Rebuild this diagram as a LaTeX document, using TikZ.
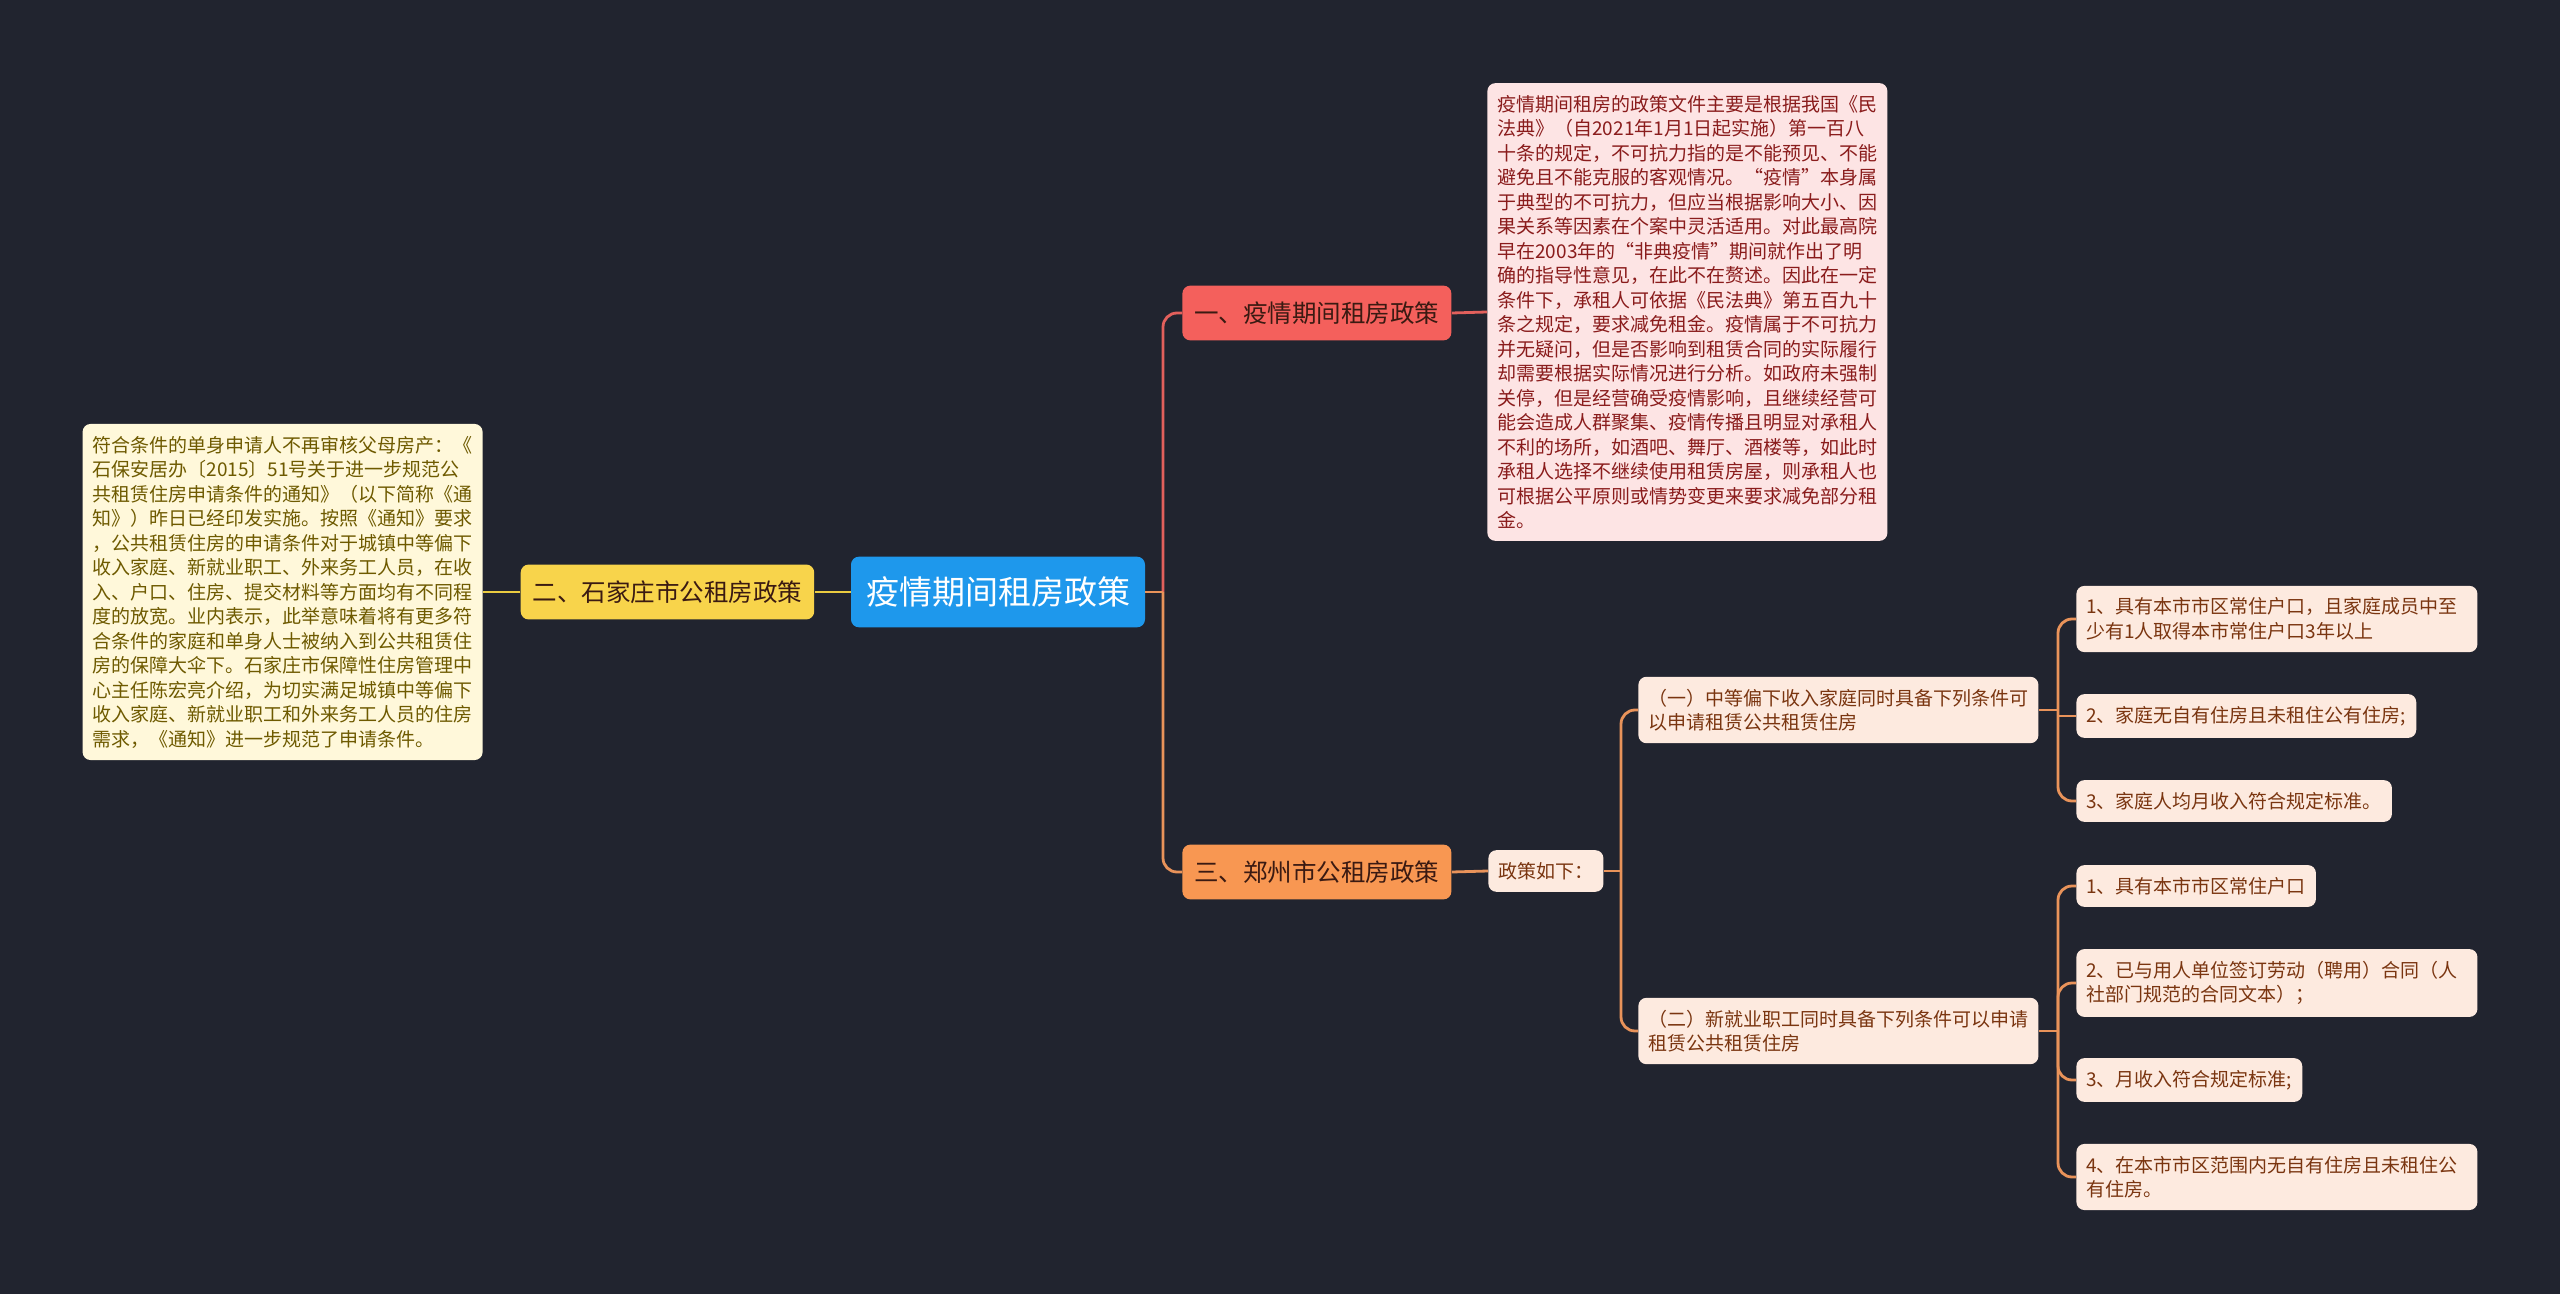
\documentclass[tikz,border=0pt]{standalone}
\usepackage{fontspec}
\setmainfont{Noto Sans CJK SC}
\usetikzlibrary{positioning}

\definecolor{bgdark}{HTML}{21242F}
\definecolor{rootblue}{HTML}{1E98EC}
\definecolor{redfill}{HTML}{F4605C}
\definecolor{redline}{HTML}{E2605C}
\definecolor{pinkfill}{HTML}{FDE4E4}
\definecolor{pinktext}{HTML}{8A1C1C}
\definecolor{yellowfill}{HTML}{F8D44B}
\definecolor{yellowline}{HTML}{EACB40}
\definecolor{creamfill}{HTML}{FFF8DA}
\definecolor{creamtext}{HTML}{6E5A00}
\definecolor{orangefill}{HTML}{F89752}
\definecolor{orangeline}{HTML}{E9935A}
\definecolor{peachfill}{HTML}{FDEADF}
\definecolor{peachtext}{HTML}{7A3510}
\definecolor{darktext}{HTML}{3A1A12}

\begin{document}
\begin{tikzpicture}[
    x=0.5pt, y=-0.5pt,
    root/.style={rectangle, rounded corners=4pt, fill=rootblue, text=white, font=\fontsize{16.5}{20}\selectfont, inner xsep=7.5pt, inner ysep=10pt},
    branch/.style={rectangle, rounded corners=4pt, text=darktext, font=\fontsize{12.25}{15}\selectfont, inner xsep=6pt, inner ysep=8pt},
    note/.style={rectangle, rounded corners=4pt, font=\fontsize{9.5}{12.25}\selectfont, align=left, inner xsep=5pt, inner ysep=6pt},
    leaf/.style={note, fill=peachfill, text=peachtext},
    wideleaf/.style={leaf, text width=190.5pt},
    link/.style={line width=1.4pt, rounded corners=7pt},
]

% Background
\fill[bgdark] (0,0) rectangle (2560,1294);
\useasboundingbox (0,0) rectangle (2560,1294);

% Center
\node[root] (root) at (998,592) {疫情期间租房政策};

% Left side: Shijiazhuang
\node[branch, fill=yellowfill, left=18pt of root] (br2) {二、石家庄市公租房政策};
\node[note, fill=creamfill, text=creamtext, anchor=east] (note2) at (483,592) {符合条件的单身申请人不再审核父母房产：《\\
石保安居办〔2015〕51号关于进一步规范公\\
共租赁住房申请条件的通知》（以下简称《通\\
知》）昨日已经印发实施。按照《通知》要求\\
，公共租赁住房的申请条件对于城镇中等偏下\\
收入家庭、新就业职工、外来务工人员，在收\\
入、户口、住房、提交材料等方面均有不同程\\
度的放宽。业内表示，此举意味着将有更多符\\
合条件的家庭和单身人士被纳入到公共租赁住\\
房的保障大伞下。石家庄市保障性住房管理中\\
心主任陈宏亮介绍，为切实满足城镇中等偏下\\
收入家庭、新就业职工和外来务工人员的住房\\
需求，《通知》进一步规范了申请条件。};

% Right side, top: epidemic period
\node[branch, fill=redfill, anchor=west] (br1) at (1182,313) {一、疫情期间租房政策};
\node[note, fill=pinkfill, text=pinktext, anchor=west] (note1) at (1487,312) {疫情期间租房的政策文件主要是根据我国《民\\
法典》（自2021年1月1日起实施）第一百八\\
十条的规定，不可抗力指的是不能预见、不能\\
避免且不能克服的客观情况。“疫情”本身属\\
于典型的不可抗力，但应当根据影响大小、因\\
果关系等因素在个案中灵活适用。对此最高院\\
早在2003年的“非典疫情”期间就作出了明\\
确的指导性意见，在此不在赘述。因此在一定\\
条件下，承租人可依据《民法典》第五百九十\\
条之规定，要求减免租金。疫情属于不可抗力\\
并无疑问，但是否影响到租赁合同的实际履行\\
却需要根据实际情况进行分析。如政府未强制\\
关停，但是经营确受疫情影响，且继续经营可\\
能会造成人群聚集、疫情传播且明显对承租人\\
不利的场所，如酒吧、舞厅、酒楼等，如此时\\
承租人选择不继续使用租赁房屋，则承租人也\\
可根据公平原则或情势变更来要求减免部分租\\
金。};

% Right side, bottom: Zhengzhou
\node[branch, fill=orangefill, anchor=west] (br3) at (1182,872) {三、郑州市公租房政策};
\node[leaf, anchor=west] (summary) at (1488,871) {政策如下：};

\node[leaf, anchor=west] (grp1) at (1638,710) {（一）中等偏下收入家庭同时具备下列条件可\\以申请租赁公共租赁住房};
\node[leaf, anchor=west] (grp2) at (1638,1031) {（二）新就业职工同时具备下列条件可以申请\\租赁公共租赁住房};

\node[wideleaf, anchor=west] (ga) at (2076,619) {1、具有本市市区常住户口，且家庭成员中至\\少有1人取得本市常住户口3年以上};
\node[leaf, anchor=west] (gb) at (2076,716) {2、家庭无自有住房且未租住公有住房;};
\node[leaf, anchor=west] (gc) at (2076,801) {3、家庭人均月收入符合规定标准。};

\node[leaf, anchor=west] (ha) at (2076,886) {1、具有本市市区常住户口};
\node[wideleaf, anchor=west] (hb) at (2076,983) {2、已与用人单位签订劳动（聘用）合同（人\\社部门规范的合同文本）；};
\node[leaf, anchor=west] (hc) at (2076,1080) {3、月收入符合规定标准;};
\node[wideleaf, anchor=west] (hd) at (2076,1177) {4、在本市市区范围内无自有住房且未租住公\\有住房。};

% Junctions
\coordinate (jroot) at (1163,592);
\coordinate (jsum) at (1621,871);
\coordinate (jg1) at (2058,710);
\coordinate (jg2) at (2058,1031);

% Links
\draw[link, yellowline] (root.west) -- (br2.east);
\draw[link, yellowline] (br2.west) -- (note2.east);

\draw[link, redline] (jroot) |- (br1.west);
\draw[link, redline] (br1.east) -- (note1.west);

\draw[link, orangeline] (root.east) -- (jroot);
\draw[link, orangeline] (jroot) |- (br3.west);
\draw[link, orangeline] (br3.east) -- (summary.west);
\draw[link, orangeline] (summary.east) -- (jsum);
\draw[link, orangeline] (jsum) |- (grp1.west);
\draw[link, orangeline] (jsum) |- (grp2.west);

\draw[link, orangeline] (grp1.east) -- (jg1);
\draw[link, orangeline] (jg1) |- (ga.west);
\draw[line width=1.4pt, orangeline] (jg1) |- (gb.west);
\draw[link, orangeline] (jg1) |- (gc.west);

\draw[link, orangeline] (grp2.east) -- (jg2);
\draw[link, orangeline] (jg2) |- (ha.west);
\draw[link, orangeline] (jg2) |- (hb.west);
\draw[link, orangeline] (jg2) |- (hc.west);
\draw[link, orangeline] (jg2) |- (hd.west);

\end{tikzpicture}
\end{document}
